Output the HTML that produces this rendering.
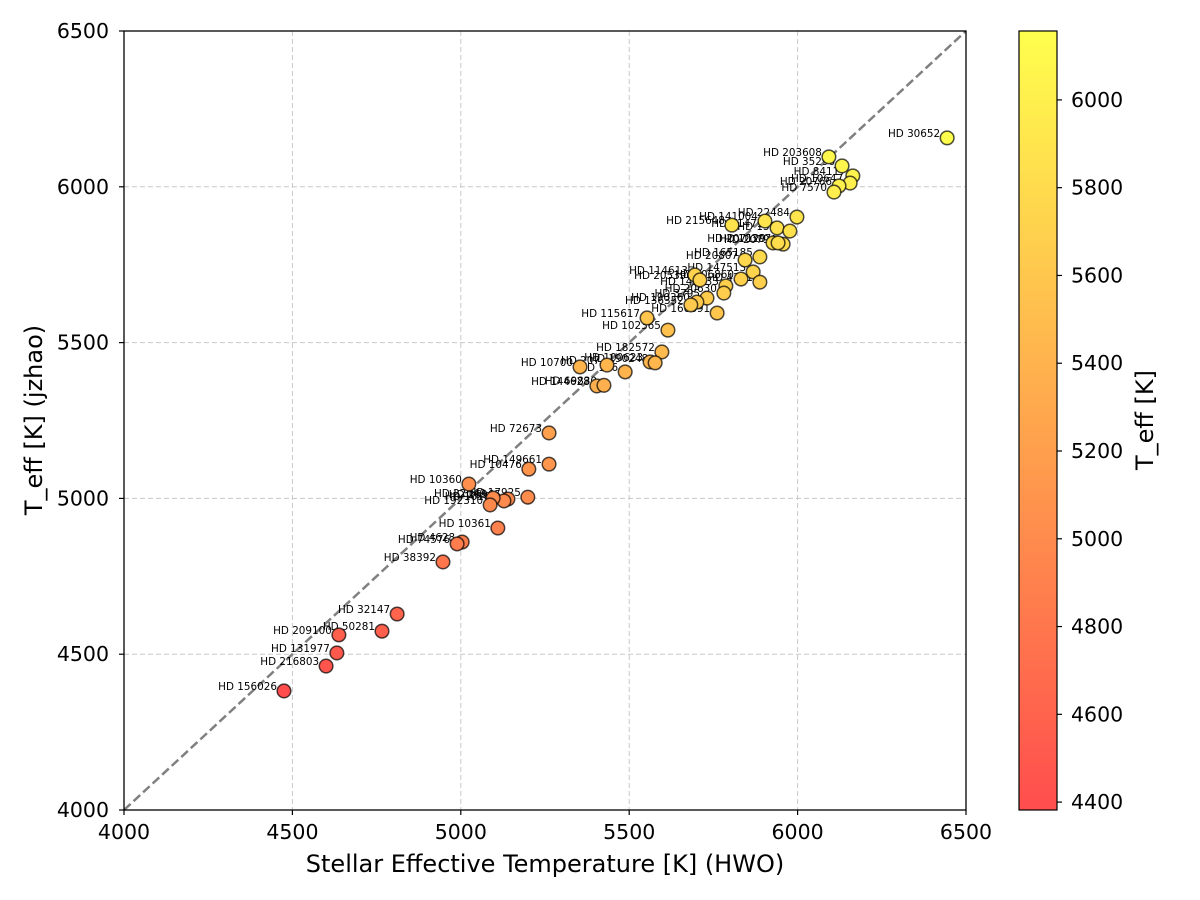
<!DOCTYPE html>
<html><head><meta charset="utf-8"><style>
html,body{margin:0;padding:0;background:#fff;}
svg{display:block;font-family:"DejaVu Sans","Liberation Sans",sans-serif;}
</style></head>
<body>
<svg id="chart" width="1200" height="900" viewBox="0 0 1200 900" xmlns="http://www.w3.org/2000/svg">
<defs>
<linearGradient id="cbgrad" x1="0" y1="1" x2="0" y2="0">
<stop offset="0" stop-color="rgb(255,77,77)"/><stop offset="1" stop-color="rgb(255,255,77)"/>
</linearGradient>
</defs>
<g id="grid"></g>
<g id="diag"></g>
<g id="labels"></g>
<g id="points"></g>
<rect x="124" y="31" width="842" height="779" fill="none" stroke="#000" stroke-width="1.3"/>
<g id="axes"></g>
<text x="545" y="872" font-size="24" text-anchor="middle">Stellar Effective Temperature [K] (HWO)</text>
<text transform="translate(42,420) rotate(-90)" font-size="24" text-anchor="middle">T_eff [K] (jzhao)</text>
<rect x="1019" y="31" width="38" height="779" fill="url(#cbgrad)" stroke="#000" stroke-width="1.2"/>
<g id="cbaxis"></g>
<text transform="translate(1153,420) rotate(-90)" font-size="24" text-anchor="middle">T_eff [K]</text>
</svg>
<script>
const xs=[6444,6093,6132,6164,6156,6123,6108,5998,5903,5805,5939,5977,5927,5957,5942,5888,5844,5868,5888,5832,5787,5781,5695,5710,5731,5701,5683,5761,5553,5615,5597,5562,5577,5488,5434,5354,5404,5425,5262,5262,5202,5024,5199,5140,5128,5096,5087,5110,5004,4989,4947,4811,4766,4638,4632,4600,4475];
const ys=[6157,6096,6067,6035,6012,6003,5983,5903,5890,5877,5868,5858,5820,5816,5820,5775,5765,5727,5694,5704,5682,5659,5717,5701,5643,5630,5621,5595,5579,5540,5470,5438,5435,5406,5428,5422,5361,5363,5210,5110,5094,5046,5004,4998,4992,5001,4979,4905,4860,4854,4796,4629,4574,4562,4504,4462,4382];
const names=["HD 30652","HD 203608","HD 35296","HD 84117","HD 10647","HD 20766","HD 7570","HD 22484","HD 141004","HD 215648","HD 114710","HD 1581","HD 207129","HD 20794","HD 10307","HD 165185","HD 20807","HD 147513","HD 4391","HD 206860","HD 146233","HD 20630","HD 114613","HD 205390","HD 3795","HD 190360","HD 136352","HD 160691","HD 115617","HD 102365","HD 182572","HD 100623","HD 190248","HD 156","HD 207","HD 10700","HD 144628","HD 69830","HD 72673","HD 149661","HD 10476","HD 10360","HD 17925","HD 26965","HD 16160","HD 22049","HD 192310","HD 10361","HD 4628","HD 74576","HD 38392","HD 32147","HD 50281","HD 209100","HD 131977","HD 216803","HD 156026"];
const xTicks=[4000,4500,5000,5500,6000,6500];
const yTicks=[4000,4500,5000,5500,6000,6500];
const cbTicks=[4400,4600,4800,5000,5200,5400,5600,5800,6000];

const NS="http://www.w3.org/2000/svg";
const X0=124,X1=966,Y0=810,Y1=31,DMIN=4000,DMAX=6500;
const sx=v=>X0+(v-DMIN)/(DMAX-DMIN)*(X1-X0);
const sy=v=>Y0-(v-DMIN)/(DMAX-DMIN)*(Y0-Y1);
const vmin=Math.min(...ys),vmax=Math.max(...ys);
const cy=v=>810-(v-vmin)/(vmax-vmin)*779;
const col=v=>{const t=Math.max(0,Math.min(1,(v-vmin)/(vmax-vmin)));return `rgb(255,${Math.round(76.5+178.5*t)},77)`;};
function mk(tag,attrs,parent,text){const e=document.createElementNS(NS,tag);for(const k in attrs)e.setAttribute(k,attrs[k]);if(text!==undefined)e.textContent=text;document.getElementById(parent).appendChild(e);return e;}

xTicks.forEach(t=>{
  if(t>DMIN&&t<DMAX){const g=mk('line',{x1:sx(t),x2:sx(t),y1:Y1,y2:Y0,stroke:'#c8c8c8','stroke-dasharray':'5,3','stroke-width':1},'grid');
  
  }
  const tk=mk('line',{x1:sx(t),x2:sx(t),y1:Y0,y2:Y0+5,stroke:'#000','stroke-width':1.2},'axes');
  
  
  const l=mk('text',{x:sx(t),y:Y0+29,'font-size':20.5,'text-anchor':'middle'},'axes',t);
  
  
});
yTicks.forEach(t=>{
  if(t>DMIN&&t<DMAX){const g=mk('line',{x1:X0,x2:X1,y1:sy(t),y2:sy(t),stroke:'#c8c8c8','stroke-dasharray':'5,3','stroke-width':1},'grid');
  
  }
  const tk=mk('line',{x1:X0-5,x2:X0,y1:sy(t),y2:sy(t),stroke:'#000','stroke-width':1.2},'axes');
  
  
  const l=mk('text',{x:X0-15,y:sy(t)+7,'font-size':20.5,'text-anchor':'end'},'axes',t);
  
  
});
const d=mk('line',{x1:sx(DMIN),y1:sy(DMIN),x2:sx(DMAX),y2:sy(DMAX),stroke:'#808080','stroke-width':2.5,'stroke-dasharray':'9,4'},'diag');



xs.forEach((x,i)=>{
  const y=ys[i];
  const t=mk('text',{x:sx(x)-7,y:sy(y)-1,'font-size':10.4,'text-anchor':'end',fill:'#000'},'labels',names[i]);
  
  
  const c=mk('circle',{cx:sx(x),cy:sy(y),r:6.8,fill:col(y),stroke:'rgba(0,0,0,0.7)','stroke-width':1.5},'points');
  
  
});

cbTicks.forEach(t=>{
  const tk=mk('line',{x1:1057,x2:1062,y1:cy(t),y2:cy(t),stroke:'#000','stroke-width':1.2},'cbaxis');
  
  
  const l=mk('text',{x:1071,y:cy(t)+7,'font-size':20.5},'cbaxis',t);
  
  
});
</script>
</body></html>
